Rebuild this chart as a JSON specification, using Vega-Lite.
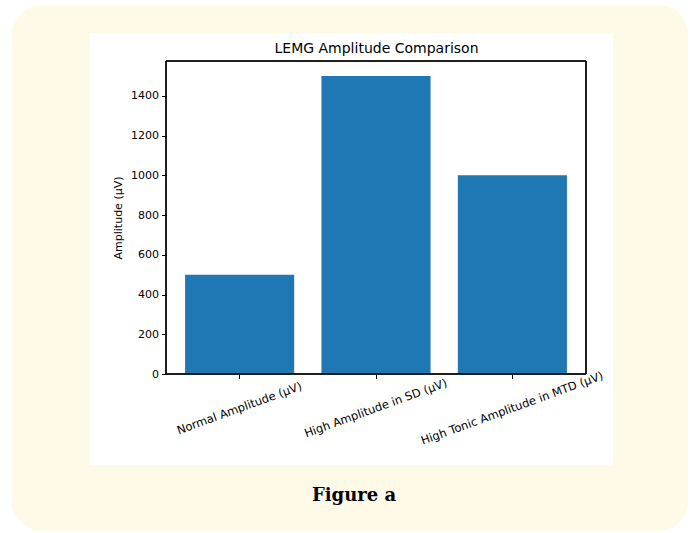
{
  "$schema": "https://vega.github.io/schema/vega-lite/v6.json",
  "width": 420,
  "height": 313,
  "autosize": {"type": "none"},
  "padding": {"left": 166, "top": 61, "right": 104, "bottom": 159},
  "background": "white",
  "config": {
    "view": {"stroke": null},
    "font": "DejaVu Sans"
  },
  "title": {
    "text": "Figure a",
    "orient": "bottom",
    "anchor": "middle",
    "frame": "group",
    "font": "DejaVu Serif",
    "fontSize": 18,
    "fontWeight": "bold",
    "color": "#000000",
    "dx": -22,
    "offset": -44,
    "zindex": 1
  },
  "data": {
    "values": [
      {"category": "Normal Amplitude (µV)", "amplitude": 500},
      {"category": "High Amplitude in SD (µV)", "amplitude": 1500},
      {"category": "High Tonic Amplitude in MTD (µV)", "amplitude": 1000}
    ]
  },
  "resolve": {"scale": {"x": "independent"}, "axis": {"x": "independent"}},
  "layer": [
    {
      "mark": {"type": "rect", "fill": "#fffae8", "cornerRadius": 30},
      "encoding": {
        "x": {"datum": -0.3667, "type": "quantitative", "scale": {"domain": [0, 1], "nice": false, "zero": false}, "axis": null},
        "x2": {"datum": 1.243},
        "y": {"datum": 1855, "type": "quantitative", "scale": {"domain": [0, 1575], "nice": false, "zero": false}},
        "y2": {"datum": -790}
      }
    },
    {
      "mark": {"type": "rect", "fill": "#ffffff"},
      "encoding": {
        "x": {
          "datum": -0.181, "type": "quantitative",
          "scale": {"domain": [0, 1], "nice": false, "zero": false},
          "axis": {"orient": "top", "title": "LEMG Amplitude Comparison", "labels": false, "ticks": false, "domain": false, "grid": false,
                   "titleFontSize": 14, "titleFontWeight": "normal", "titleColor": "#000000", "titlePadding": 6, "titleFont": "DejaVu Sans", "zindex": 1}
        },
        "x2": {"datum": 1.064},
        "y": {"datum": 1714, "type": "quantitative", "scale": {"domain": [0, 1575], "nice": false, "zero": false}},
        "y2": {"datum": -458}
      }
    },
    {
      "mark": {"type": "bar", "color": "#1f77b4"},
      "encoding": {
        "x": {
          "field": "category", "type": "nominal", "sort": null,
          "scale": {"paddingInner": 0.2, "paddingOuter": 0.14},
          "axis": {"title": null, "labelAngle": -20, "labelAlign": "center", "labelBaseline": "middle", "labelPadding": 30,
                   "labelFontSize": 11.5, "labelColor": "#000000", "labelLimit": 400, "labelOverlap": false,
                   "tickSize": 4.5, "tickColor": "#000000", "domain": false, "zindex": 1}
        },
        "y": {
          "field": "amplitude", "type": "quantitative",
          "scale": {"domain": [0, 1575], "nice": false, "zero": false},
          "axis": {"title": "Amplitude (µV)", "values": [0, 200, 400, 600, 800, 1000, 1200, 1400], "format": "d", "grid": false,
                   "labelFontSize": 11, "labelColor": "#000000", "tickSize": 4.5, "tickColor": "#000000", "labelPadding": 3,
                   "titleFontSize": 11, "titleFontWeight": "normal", "titleColor": "#000000", "titlePadding": 7, "domain": false, "zindex": 1}
        }
      }
    },
    {
      "mark": {"type": "rect", "fill": null, "stroke": "#000000", "strokeWidth": 1},
      "encoding": {
        "x": {"datum": 0, "type": "quantitative", "scale": {"domain": [0, 1], "nice": false, "zero": false}, "axis": null},
        "x2": {"datum": 1},
        "y": {"datum": 0, "type": "quantitative", "scale": {"domain": [0, 1575], "nice": false, "zero": false}},
        "y2": {"datum": 1575}
      }
    }
  ]
}
